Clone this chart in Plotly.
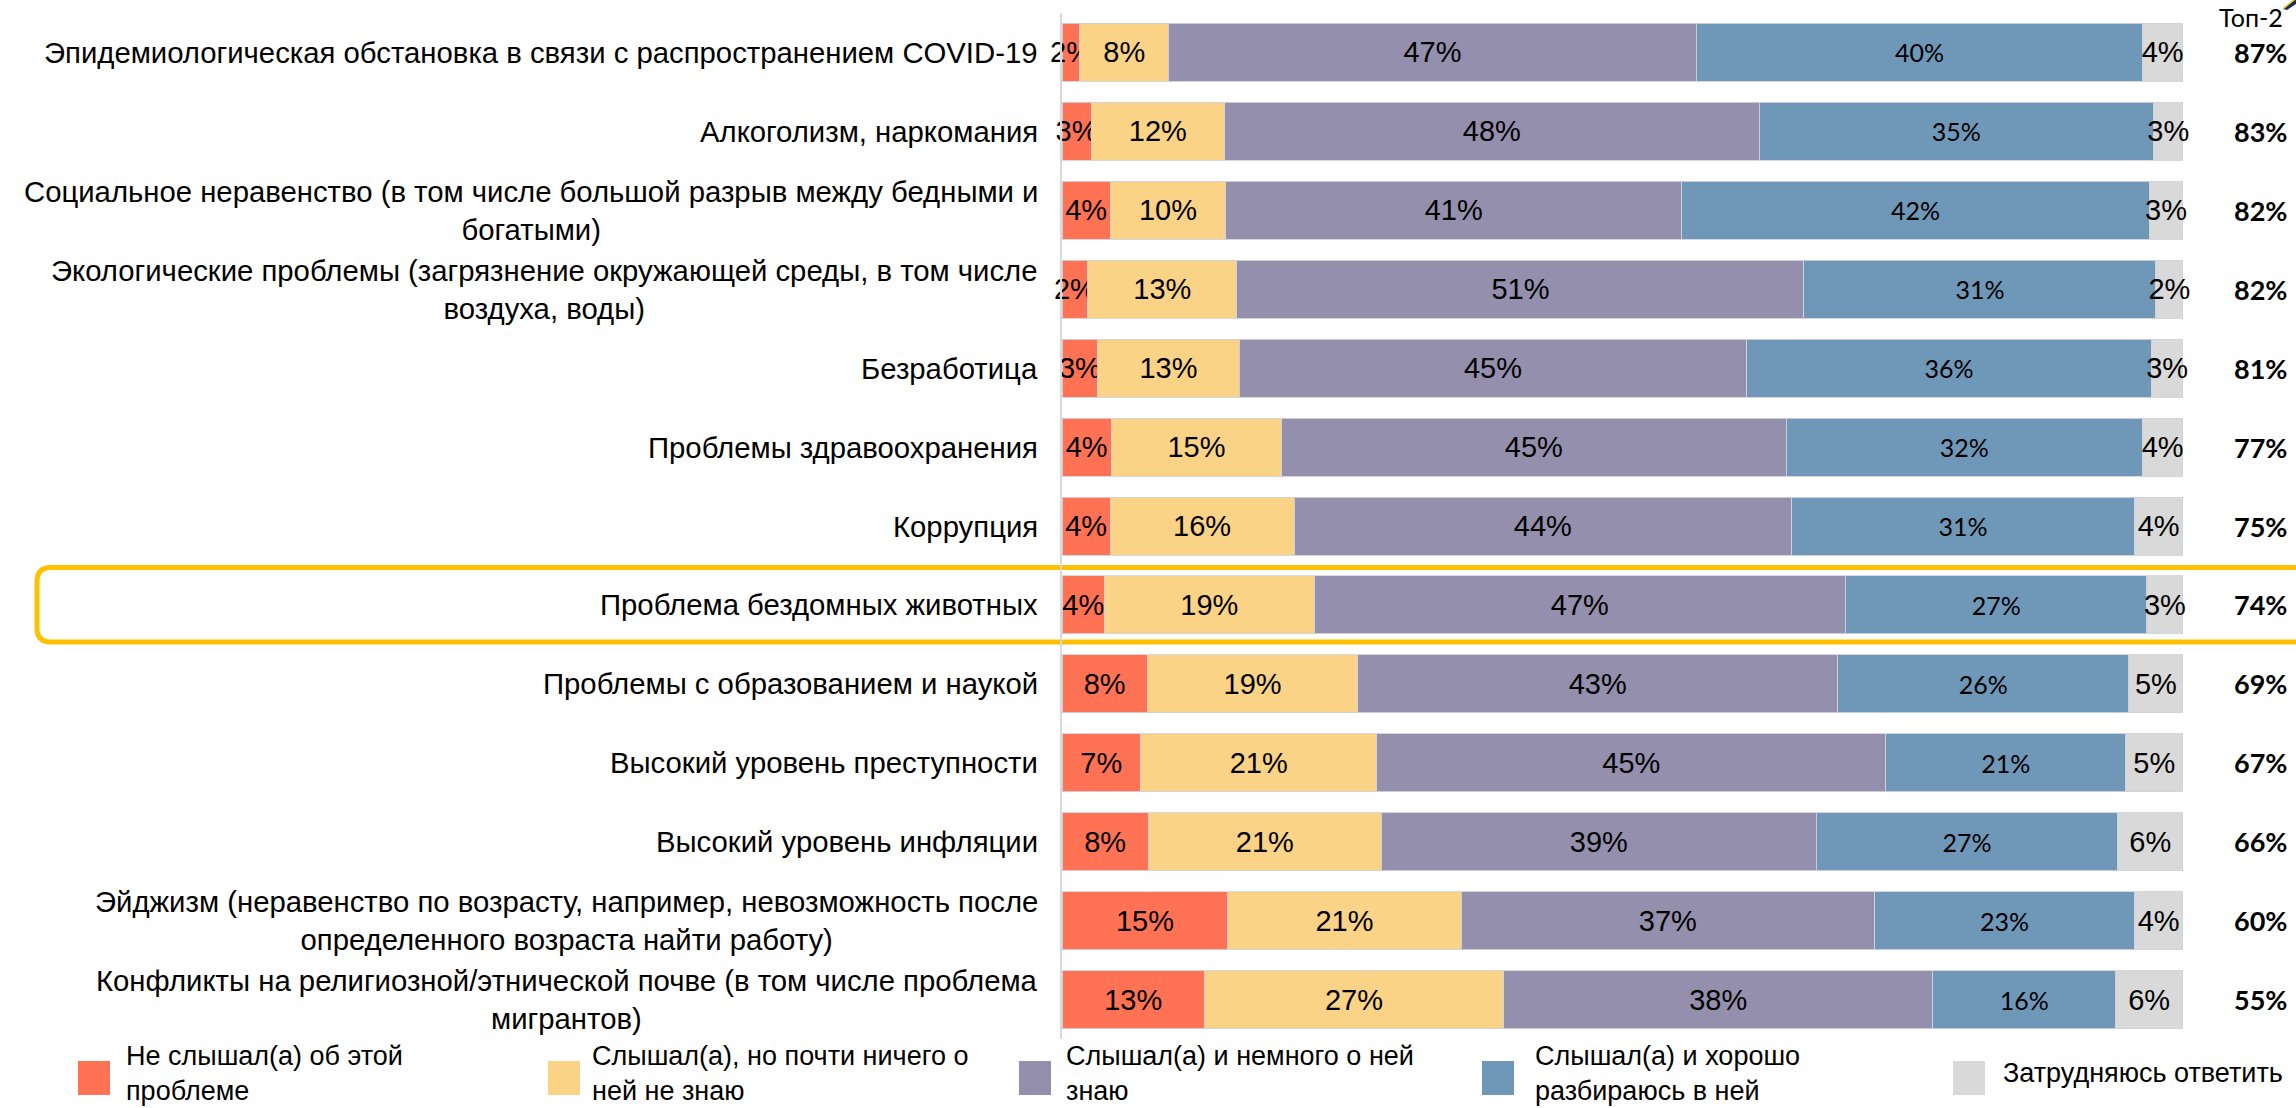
import plotly.graph_objects as go

categories = [
    "Эпидемиологическая обстановка в связи с распространением COVID-19",
    "Алкоголизм, наркомания",
    "Социальное неравенство (в том числе большой разрыв между бедными и<br>богатыми)",
    "Экологические проблемы (загрязнение окружающей среды, в том числе<br>воздуха, воды)",
    "Безработица",
    "Проблемы здравоохранения",
    "Коррупция",
    "Проблема бездомных животных",
    "Проблемы с образованием и наукой",
    "Высокий уровень преступности",
    "Высокий уровень инфляции",
    "Эйджизм (неравенство по возрасту, например, невозможность после<br>определенного возраста найти работу)",
    "Конфликты на религиозной/этнической почве (в том числе проблема<br>мигрантов)",
]

not_heard = [1.6, 2.6, 4.3, 2.3, 3.2, 4.4, 4.3, 3.8, 7.6, 7.0, 7.7, 14.8, 12.7]
heard_nothing = [7.9, 11.9, 10.3, 13.3, 12.6, 15.2, 16.4, 18.7, 18.8, 21.1, 20.8, 20.8, 26.7]
heard_little = [47.1, 47.7, 40.7, 50.6, 45.3, 45.0, 44.4, 47.4, 42.8, 45.4, 38.8, 36.9, 38.3]
heard_well = [39.8, 35.2, 41.7, 31.4, 36.1, 31.8, 30.6, 26.9, 26.0, 21.4, 26.9, 23.2, 16.3]
hard_to_say = [3.6, 2.6, 3.0, 2.4, 2.8, 3.6, 4.3, 3.2, 4.8, 5.1, 5.8, 4.3, 6.0]
top2 = [87, 83, 82, 82, 81, 77, 75, 74, 69, 67, 66, 60, 55]

series_names = [
    "Не слышал(а) об этой<br>проблеме",
    "Слышал(а), но почти ничего о<br>ней не знаю",
    "Слышал(а) и немного о ней<br>знаю",
    "Слышал(а) и хорошо<br>разбираюсь в ней",
    "Затрудняюсь ответить",
]
top2_title = "Топ-2"
highlight_category = "Проблема бездомных животных"

colors = ["#FF7253", "#FAD387", "#948FAD", "#6F97B8", "#D9D9D9"]
ARIAL = "Liberation Sans, Arial, sans-serif"
CALIBRI = "Lato, Carlito, Calibri, sans-serif"

W, H = 2296, 1108
L, R, T, B = 1062, 113, 13, 69
PW, PH = W - L - R, H - T - B


def px(x):
    return (x - L) / PW


def py(y):
    return (H - B - y) / PH


fig = go.Figure()
series = [not_heard, heard_nothing, heard_little, heard_well, hard_to_say]
for i, (name, vals) in enumerate(zip(series_names, series)):
    is_blue = i == 3
    fig.add_trace(go.Bar(
        y=categories, x=vals, name=name, orientation="h",
        marker=dict(color=colors[i], line=dict(color="rgba(210,210,220,0.9)", width=1)),
        texttemplate="%{x:.0f}%",
        textposition="inside", insidetextanchor="middle", textangle=0,
        constraintext="none", cliponaxis=False,
        textfont=dict(family=CALIBRI if is_blue else ARIAL,
                      size=25 if is_blue else 29, color="black"),
        showlegend=False, hoverinfo="skip",
    ))

annotations = []
for cat, t in zip(categories, top2):
    annotations.append(dict(
        x=0, xref="paper", xanchor="right", xshift=-22,
        y=cat, yref="y", yanchor="middle", text=cat, align="center",
        showarrow=False, font=dict(family=ARIAL, size=29.3, color="black")))
    annotations.append(dict(
        x=px(2260), xref="paper", xanchor="center",
        y=cat, yref="y", yanchor="middle", text=f"<b>{t}%</b>",
        showarrow=False, font=dict(family=CALIBRI, size=27, color="black")))

annotations.append(dict(
    x=px(2251), xref="paper", xanchor="center", y=py(17), yref="paper",
    yanchor="middle", text=top2_title, showarrow=False,
    font=dict(family=CALIBRI, size=25, color="black")))

shapes = []
# legend (manual)
sq_x = [78, 548, 1019, 1482, 1953]
tx_x = [124, 590, 1064, 1533, 2001]
for i, name in enumerate(series_names):
    shapes.append(dict(type="rect", xref="paper", yref="paper",
                       x0=px(sq_x[i]), x1=px(sq_x[i] + 32),
                       y0=py(1061), y1=py(1095),
                       fillcolor=colors[i], line=dict(width=0)))
    annotations.append(dict(
        x=px(tx_x[i]), xref="paper", xanchor="left",
        y=py(1073), yref="paper", yanchor="middle",
        text=name, align="left", showarrow=False,
        font=dict(family=ARIAL, size=27, color="black")))

# highlight box around selected category (rounded corners)
idx = categories.index(highlight_category)
n = len(categories)


def cy(v):
    return (n - 0.5 - v) / n


y_top, y_bot = cy(idx - 0.475), cy(idx + 0.47)
x_l, x_r = px(37), px(2320)
rx, ry = 14 / PW, 14 / PH
path = (f"M {x_l + rx},{y_top} L {x_r - rx},{y_top} Q {x_r},{y_top} {x_r},{y_top - ry} "
        f"L {x_r},{y_bot + ry} Q {x_r},{y_bot} {x_r - rx},{y_bot} "
        f"L {x_l + rx},{y_bot} Q {x_l},{y_bot} {x_l},{y_bot + ry} "
        f"L {x_l},{y_top - ry} Q {x_l},{y_top} {x_l + rx},{y_top} Z")
shapes.append(dict(type="path", xref="paper", yref="paper", path=path, layer="below",
                   line=dict(color="#FFC000", width=5), fillcolor="rgba(0,0,0,0)"))

# small clipped decoration in the top-right corner
shapes.append(dict(type="path", xref="paper", yref="paper",
                   path=f"M {px(2283)},{py(9)} L {px(2296)},{py(-1)} L {px(2296)},{py(4)} L {px(2287)},{py(10)} Z",
                   fillcolor="#1F2D5C", line=dict(width=0)))
shapes.append(dict(type="path", xref="paper", yref="paper",
                   path=f"M {px(2283)},{py(8)} L {px(2294)},{py(-1)} L {px(2296)},{py(-1)} L {px(2284)},{py(9)} Z",
                   fillcolor="#FFC000", line=dict(width=0)))

fig.update_layout(
    barmode="stack", bargap=0.265,
    width=W, height=H,
    margin=dict(l=L, r=R, t=T, b=B, autoexpand=False),
    paper_bgcolor="white", plot_bgcolor="white",
    xaxis=dict(range=[0, 100.02], visible=False, fixedrange=True),
    yaxis=dict(categoryorder="array", categoryarray=categories, autorange="reversed",
               showticklabels=False, ticks="", showgrid=False, zeroline=False,
               showline=True, linecolor="#D9D9D9", linewidth=2, fixedrange=True),
    annotations=annotations, shapes=shapes,
    font=dict(family=ARIAL, color="black"),
)

fig.write_html("out.html", config={"displayModeBar": False},
               post_script="document.body.style.margin='0';document.body.style.overflow='hidden';")
